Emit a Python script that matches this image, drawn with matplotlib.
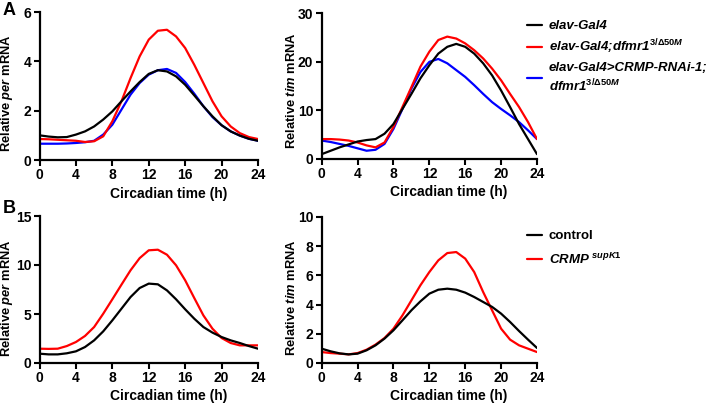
import matplotlib
matplotlib.use("Agg")
import matplotlib.pyplot as plt

plt.rcParams["font.family"] = ["Liberation Sans", "DejaVu Sans"]
plt.rcParams["font.weight"] = "bold"
plt.rcParams["mathtext.fontset"] = "custom"
plt.rcParams["mathtext.rm"] = "Liberation Sans:bold"
plt.rcParams["mathtext.it"] = "Liberation Sans:bold:italic"
plt.rcParams["mathtext.bf"] = "Liberation Sans:bold"
plt.rcParams["lines.solid_joinstyle"] = "round"
plt.rcParams["lines.solid_capstyle"] = "round"

# circadian time points (h), read every hour
hours = list(range(25))

# panel A, per mRNA
per_a_ctrl = [1.00, 0.95, 0.92, 0.93, 1.03, 1.16, 1.36, 1.64, 1.97, 2.38, 2.78, 3.16, 3.49,
              3.64, 3.59, 3.39, 3.05, 2.62, 2.18, 1.77, 1.41, 1.16, 0.99, 0.86, 0.78]
per_a_fmr = [0.85, 0.84, 0.82, 0.80, 0.78, 0.73, 0.76, 0.96, 1.57, 2.38, 3.32, 4.20, 4.88,
             5.24, 5.28, 5.01, 4.54, 3.86, 3.12, 2.38, 1.77, 1.36, 1.09, 0.93, 0.85]
per_a_rnai = [0.66, 0.66, 0.66, 0.67, 0.69, 0.72, 0.78, 1.03, 1.43, 2.04, 2.65, 3.12, 3.46,
              3.64, 3.69, 3.53, 3.16, 2.69, 2.18, 1.74, 1.41, 1.16, 0.99, 0.86, 0.78]

# panel A, tim mRNA
tim_a_ctrl = [1.0, 1.7, 2.4, 3.0, 3.6, 3.9, 4.1, 5.2, 7.2, 10.3, 13.4, 16.6, 19.3,
              21.7, 23.1, 23.7, 23.1, 21.7, 19.7, 17.2, 14.1, 10.7, 7.2, 4.1, 1.0]
tim_a_fmr = [4.1, 4.1, 4.0, 3.8, 3.4, 2.8, 2.4, 3.4, 6.6, 10.7, 14.8, 19.0, 22.1,
             24.5, 25.2, 24.8, 23.8, 22.4, 20.7, 18.6, 16.2, 13.4, 10.7, 7.6, 4.1]
tim_a_rnai = [3.8, 3.5, 3.1, 2.7, 2.2, 1.7, 1.9, 3.1, 6.2, 10.3, 14.5, 17.9, 20.0,
              20.6, 19.7, 18.3, 16.9, 15.2, 13.4, 11.7, 10.3, 9.0, 7.6, 5.9, 4.1]

# panel B, per mRNA
per_b_ctrl = [0.95, 0.88, 0.88, 0.99, 1.19, 1.63, 2.31, 3.23, 4.35, 5.54, 6.73, 7.65, 8.10,
              8.03, 7.41, 6.50, 5.48, 4.52, 3.67, 3.10, 2.65, 2.31, 2.04, 1.73, 1.46]
per_b_crmp = [1.46, 1.44, 1.46, 1.73, 2.14, 2.76, 3.67, 5.03, 6.50, 7.99, 9.46, 10.70, 11.50,
              11.56, 11.05, 9.97, 8.44, 6.63, 4.86, 3.50, 2.55, 2.04, 1.80, 1.80, 1.80]

# panel B, tim mRNA
tim_b_ctrl = [0.98, 0.80, 0.66, 0.59, 0.64, 0.87, 1.21, 1.67, 2.24, 2.92, 3.61, 4.22, 4.75,
              5.02, 5.09, 5.02, 4.82, 4.52, 4.18, 3.84, 3.38, 2.81, 2.19, 1.60, 1.03]
tim_b_crmp = [0.75, 0.68, 0.64, 0.59, 0.68, 0.91, 1.26, 1.71, 2.35, 3.26, 4.29, 5.32, 6.23,
              7.03, 7.53, 7.60, 7.15, 6.23, 4.86, 3.60, 2.35, 1.60, 1.21, 0.98, 0.75]

x_ticks = [0, 4, 8, 12, 16, 20, 24]

BLACK = "#000000"
RED = "#ff0000"
BLUE = "#0000ff"

fig = plt.figure(figsize=(7.08, 4.04), dpi=100)

W, H = 708.0, 404.0


def make_ax(left, right, top, bottom):
    return fig.add_axes([left / W, 1 - bottom / H, (right - left) / W, (bottom - top) / H])


def style(ax, ymax, ystep, ylabel, ylab_y):
    ax.set_xlim(0, 24)
    ax.set_ylim(0, ymax)
    ax.set_xticks(x_ticks)
    ax.set_yticks(list(range(0, ymax + 1, ystep)))
    for s in ["top", "right"]:
        ax.spines[s].set_visible(False)
    for s in ["left", "bottom"]:
        ax.spines[s].set_linewidth(1.6)
    ax.tick_params(width=1.5, length=4, labelsize=10, pad=2)
    ax.set_xlabel("Circadian time (h)", fontsize=10, fontweight="bold")
    ax.set_ylabel(ylabel, fontsize=9.3, fontweight="bold")
    ax.xaxis.set_label_coords(0.59, -0.18)
    ax.yaxis.set_label_coords(-0.11, ylab_y)
    for lbl in ax.get_xticklabels() + ax.get_yticklabels():
        lbl.set_fontweight("bold")


lw = 1.6

ax1 = make_ax(39.5, 258, 12, 160)
ax1.plot(hours, per_a_ctrl, color=BLACK, lw=lw, zorder=3)
ax1.plot(hours, per_a_fmr, color=RED, lw=lw, zorder=2)
ax1.plot(hours, per_a_rnai, color=BLUE, lw=lw, zorder=1)
style(ax1, 6, 2, r"Relative $\mathit{per}$ mRNA", 0.45)

ax2 = make_ax(321.7, 537, 13.3, 159)
l1, = ax2.plot(hours, tim_a_ctrl, color=BLACK, lw=lw, zorder=3)
l2, = ax2.plot(hours, tim_a_fmr, color=RED, lw=lw, zorder=2)
l3, = ax2.plot(hours, tim_a_rnai, color=BLUE, lw=lw, zorder=1)
style(ax2, 30, 10, r"Relative $\mathit{tim}$ mRNA", 0.467)

ax3 = make_ax(39.5, 258, 216, 363)
ax3.plot(hours, per_b_ctrl, color=BLACK, lw=lw, zorder=3)
ax3.plot(hours, per_b_crmp, color=RED, lw=lw, zorder=2)
style(ax3, 15, 5, r"Relative $\mathit{per}$ mRNA", 0.44)

ax4 = make_ax(321.7, 537, 217, 363)
m1, = ax4.plot(hours, tim_b_ctrl, color=BLACK, lw=lw, zorder=3)
m2, = ax4.plot(hours, tim_b_crmp, color=RED, lw=lw, zorder=2)
style(ax4, 10, 2, r"Relative $\mathit{tim}$ mRNA", 0.45)

sup = r"$^{\mathit{3/\Delta 50M}}$"
leg_a = fig.legend([l1, l2, l3],
                   ["elav-Gal4", "elav-Gal4;dfmr1" + sup,
                    "elav-Gal4>CRMP-RNAi-1;\ndfmr1" + sup],
                   loc="upper left", bbox_to_anchor=(527 / W, 1 - 20 / H),
                   frameon=False, fontsize=9.5, handlelength=1.15,
                   handletextpad=0.5, labelspacing=0.42, borderpad=0,
                   borderaxespad=0)
for t in leg_a.get_texts():
    t.set_fontstyle("italic")
    t.set_fontweight("bold")
leg_a.get_texts()[2].set_linespacing(1.3)

leg_b = fig.legend([m1, m2],
                   ["control", r"$\mathit{CRMP}^{\ supK1}$"],
                   loc="upper left", bbox_to_anchor=(527 / W, 1 - 230 / H),
                   frameon=False, fontsize=9.5, handlelength=1.15,
                   handletextpad=0.5, labelspacing=0.7, borderpad=0,
                   borderaxespad=0)
for t in leg_b.get_texts():
    t.set_fontweight("bold")

fig.text(3 / W, 1 - 2 / H, "A", fontsize=13, fontweight="bold", va="top", ha="left")
fig.text(3 / W, 1 - 200 / H, "B", fontsize=13, fontweight="bold", va="top", ha="left")

fig.savefig("out.png", dpi=100)
